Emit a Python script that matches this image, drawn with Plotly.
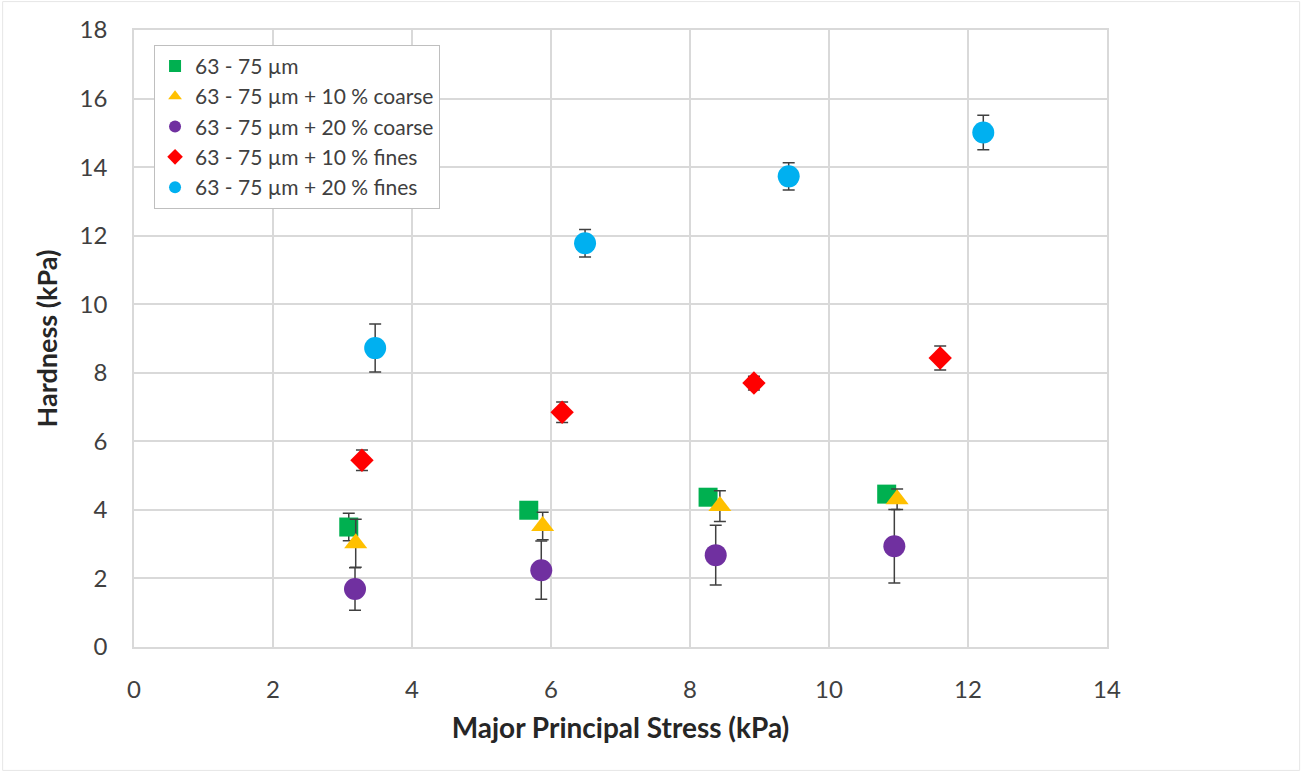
import plotly.graph_objects as go

series_names = [
    "63 - 75 µm",
    "63 - 75 µm + 10 % coarse",
    "63 - 75 µm + 20 % coarse",
    "63 - 75 µm + 10 % fines",
    "63 - 75 µm + 20 % fines",
]
x_vals = [
    [3.09, 5.68, 8.26, 10.83],
    [3.19, 5.88, 8.43, 10.98],
    [3.18, 5.86, 8.37, 10.94],
    [3.28, 6.16, 8.92, 11.60],
    [3.47, 6.49, 9.42, 12.22],
]
y_vals = [
    [3.50, 3.99, 4.37, 4.46],
    [3.03, 3.53, 4.11, 4.31],
    [1.69, 2.24, 2.68, 2.94],
    [5.45, 6.85, 7.70, 8.43],
    [8.72, 11.78, 13.73, 15.01],
]
y_err = [
    [0.40, 0.20, 0.15, 0.15],
    [0.70, 0.40, 0.45, 0.30],
    [0.62, 0.85, 0.87, 1.07],
    [0.30, 0.30, 0.20, 0.35],
    [0.70, 0.40, 0.40, 0.50],
]
colors = ["#00b050", "#ffc000", "#7030a0", "#ff0000", "#00b0f0"]
symbols = ["square", "triangle-up", "circle", "diamond", "circle"]
sizes = [19, 20, 22, 18, 22]

x_ticks = [0, 2, 4, 6, 8, 10, 12, 14]
y_ticks = [0, 2, 4, 6, 8, 10, 12, 14, 16, 18]

fig = go.Figure()
for name, xs, ys, es, c, s, sz in zip(series_names, x_vals, y_vals, y_err, colors, symbols, sizes):
    fig.add_trace(go.Scatter(
        x=xs, y=ys, name=name, mode="markers",
        marker=dict(color=c, symbol=s, size=sz, line=dict(width=0)),
        error_y=dict(type="data", array=es, visible=True, color="#404040", thickness=1.5, width=6),
    ))

font_family = "Lato, 'Open Sans', sans-serif"
fig.update_layout(
    width=1304, height=773,
    margin=dict(l=134, r=197, t=30, b=126),
    paper_bgcolor="white", plot_bgcolor="white",
    font=dict(family=font_family, color="#404040"),
    showlegend=True,
    legend=dict(
        x=0.0206, y=0.976, xanchor="left", yanchor="top",
        bgcolor="white", bordercolor="#bfbfbf", borderwidth=1,
        font=dict(size=21, color="#404040", family=font_family),
        tracegroupgap=0, itemsizing="constant", itemwidth=30,
    ),
    xaxis=dict(
        range=[0, 14], tickvals=x_ticks, ticktext=[str(v) for v in x_ticks],
        showgrid=True, gridcolor="#d9d9d9", gridwidth=1.5,
        showline=True, linecolor="#d9d9d9", linewidth=1.5, mirror=True,
        zeroline=False, ticks="", ticklabelstandoff=20,
        tickfont=dict(size=24, color="#404040"),
        title=dict(text="<b>Major Principal Stress (kPa)</b>", font=dict(size=28, color="#262626"), standoff=17),
    ),
    yaxis=dict(
        range=[0, 18], tickvals=y_ticks, ticktext=[str(v) for v in y_ticks],
        showgrid=True, gridcolor="#d9d9d9", gridwidth=1.5,
        showline=True, linecolor="#d9d9d9", linewidth=1.5, mirror=True,
        zeroline=False, ticks="", ticklabelstandoff=20,
        tickfont=dict(size=24, color="#404040"),
        title=dict(text="<b>Hardness (kPa)</b>", font=dict(size=27, color="#262626"), standoff=14),
    ),
)
fig.add_shape(type="rect", xref="paper", yref="paper", x0=-0.135, x1=1.198, y0=-0.2, y1=1.046,
              line=dict(color="#e6e6e6", width=1), fillcolor="rgba(0,0,0,0)", layer="below")

fig.write_html("out.html")
